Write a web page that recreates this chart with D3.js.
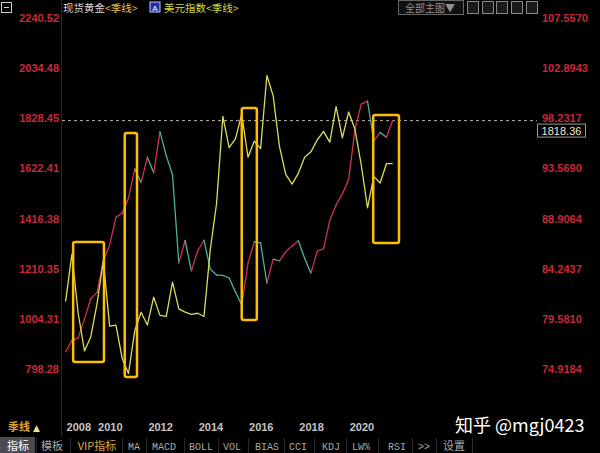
<!DOCTYPE html>
<html><head><meta charset="utf-8">
<script src="https://cdn.jsdelivr.net/npm/d3@7"></script>
<style>
html,body{margin:0;padding:0;background:#000;overflow:hidden;}
svg{display:block;}
</style></head><body>
<svg id="c" width="600" height="453"></svg>
<script>
// ---------- data ----------
const quarters = ["2008Q4",
 "2009Q1","2009Q2","2009Q3","2009Q4","2010Q1","2010Q2","2010Q3","2010Q4",
 "2011Q1","2011Q2","2011Q3","2011Q4","2012Q1","2012Q2","2012Q3","2012Q4",
 "2013Q1","2013Q2","2013Q3","2013Q4","2014Q1","2014Q2","2014Q3","2014Q4",
 "2015Q1","2015Q2","2015Q3","2015Q4","2016Q1","2016Q2","2016Q3","2016Q4",
 "2017Q1","2017Q2","2017Q3","2017Q4","2018Q1","2018Q2","2018Q3","2018Q4",
 "2019Q1","2019Q2","2019Q3","2019Q4","2020Q1","2020Q2","2020Q3","2020Q4",
 "2021Q1","2021Q2","2021Q3","2021Q4"];
const gold = [869,
 916, 926, 1003, 1087, 1113, 1244, 1307, 1421,
 1439, 1500, 1620, 1564, 1668, 1604, 1772, 1675,
 1595, 1234, 1326, 1201, 1284, 1327, 1209, 1184,
 1183, 1172, 1115, 1061, 1233, 1321, 1316, 1151,
 1249, 1242, 1280, 1303, 1325, 1253, 1192, 1282,
 1292, 1409, 1472, 1517, 1577, 1781, 1886, 1898,
 1735, 1770, 1750, 1818.36];
const dxy = [81.2,
 85.6, 80.1, 76.6, 77.9, 81.0, 85.0, 78.9, 79.0,
 75.9, 74.5, 78.5, 80.2, 79.0, 81.6, 79.9, 79.8,
 83.0, 80.5, 80.2, 80.0, 80.1, 79.8, 86.0, 90.3,
 98.4, 95.5, 96.3, 98.6, 94.6, 96.1, 95.4, 102.2,
 100.3, 95.6, 93.0, 92.1, 93.1, 94.6, 95.1, 96.2,
 97.0, 96.0, 99.3, 96.4, 98.8, 97.2, 93.9, 89.9,
 92.8, 92.2, 94.0, 94.0];
const goldTicks = [798.28, 1004.31, 1210.35, 1416.38, 1622.41, 1828.45, 2034.48, 2240.52];
const dxyTicks = [74.9184, 79.5810, 84.2437, 88.9064, 93.5690, 98.2317, 102.8943, 107.5570];
const yearTicks = ["2008","2010","2012","2014","2016","2018","2020"];
// highlight boxes: [start quarter index, end quarter index, gold high, gold low]
const boxStart = [1.2, 9.4, 28.0, 48.9];
const boxEnd   = [6.1, 11.35, 30.4, 53.0];
const boxHigh  = [1320, 1767, 1870, 1841];
const boxLow   = [827, 765, 1000, 1316];
const lastPrice = 1818.36;
const tabs = ["指标","模板","VIP指标","MA","MACD","BOLL","VOL","BIAS","CCI","KDJ","LW%","RSI",">>","设置"];

// ---------- layout ----------
const svg = d3.select("#c");
svg.append("rect").attr("width",600).attr("height",453).attr("fill","#000");

const x = d3.scaleLinear().domain([0, 52]).range([65.6, 392.7]);
const yG = d3.scaleLinear().domain([798.28, 2240.52]).range([369, 17.8]);
const yD = d3.scaleLinear().domain([74.9184, 107.557]).range([369, 17.8]);

const RED = "#d0324f", GREEN = "#4fae9c", YEL = "#dcdc5c", BOX = "#ffbe00";

// left frame line
svg.append("line").attr("x1",61.5).attr("x2",61.5).attr("y1",0).attr("y2",437)
  .attr("stroke","#3a2020").attr("stroke-width",1);

// left axis labels
const leftAxis = d3.axisLeft(yG).tickValues(goldTicks).tickSize(0).tickPadding(0)
  .tickFormat(d => d.toFixed(2));
const gl = svg.append("g").attr("transform","translate(59,0)").call(leftAxis);
gl.select(".domain").remove();
gl.selectAll("text").attr("fill","#c8283c").attr("font-family","Liberation Sans, Arial, sans-serif")
  .attr("font-size",11).attr("font-weight","bold");

// right axis labels
const rightAxis = d3.axisRight(yD).tickValues(dxyTicks).tickSize(0).tickPadding(0)
  .tickFormat(d => d.toFixed(4));
const gr = svg.append("g").attr("transform","translate(542,0)").call(rightAxis);
gr.select(".domain").remove();
gr.selectAll("text").attr("fill","#c8283c").attr("font-family","Liberation Sans, Arial, sans-serif")
  .attr("font-size",11).attr("font-weight","bold");

// dashed last-price line
svg.append("line").attr("x1",62).attr("x2",537)
  .attr("y1",yG(lastPrice)).attr("y2",yG(lastPrice))
  .attr("stroke","#b8b0a0").attr("stroke-width",1).attr("stroke-dasharray","3,3");

// price box
const py = yG(lastPrice);
svg.append("rect").attr("x",537.5).attr("y",py+3.5).attr("width",48).attr("height",13)
  .attr("fill","#000").attr("stroke","#9a9a8a").attr("stroke-width",1);
svg.append("text").attr("x",561.5).attr("y",py+14).attr("text-anchor","middle")
  .attr("fill","#f2ead0").attr("font-family","Liberation Sans, Arial, sans-serif")
  .attr("font-size",11).text(lastPrice.toFixed(2));

// gold line, coloured per segment (up red, down green)
const segs = d3.range(gold.length - 1);
svg.append("g").selectAll("line").data(segs).join("line")
  .attr("x1", i => x(i)).attr("y1", i => yG(gold[i]))
  .attr("x2", i => x(i+1)).attr("y2", i => yG(gold[i+1]))
  .attr("stroke", i => gold[i+1] >= gold[i] ? RED : GREEN)
  .attr("stroke-width",1.3).attr("stroke-linecap","round");

// dollar index line
svg.append("path").datum(dxy)
  .attr("d", d3.line().x((d,i) => x(i)).y(d => yD(d)))
  .attr("fill","none").attr("stroke",YEL).attr("stroke-width",1.3).attr("stroke-linejoin","round");

// highlight boxes
svg.append("g").selectAll("rect").data(boxStart).join("rect")
  .attr("x",(d,i) => x(boxStart[i]))
  .attr("y",(d,i) => yG(boxHigh[i]))
  .attr("width",(d,i) => x(boxEnd[i]) - x(boxStart[i]))
  .attr("height",(d,i) => yG(boxLow[i]) - yG(boxHigh[i]))
  .attr("rx",2).attr("fill","none").attr("stroke",BOX).attr("stroke-width",2.5);

// ---------- header ----------
svg.append("rect").attr("x",1.5).attr("y",2.5).attr("width",10).attr("height",10)
  .attr("fill","none").attr("stroke","#d0d0d0");
svg.append("line").attr("x1",4).attr("x2",9).attr("y1",7.5).attr("y2",7.5).attr("stroke","#d0d0d0");
const hdr = svg.append("text").attr("x",63).attr("y",12)
  .attr("font-family","Noto Sans CJK SC, sans-serif").attr("font-size",10.5);
hdr.append("tspan").attr("fill","#d8d8d8").text("现货黄金");
hdr.append("tspan").attr("fill","#e0c050").text("<季线>");
svg.append("rect").attr("x",150).attr("y",2).attr("width",10).attr("height",10)
  .attr("fill","#2030a0").attr("stroke","#c0c8ff");
svg.append("text").attr("x",155).attr("y",10.5).attr("text-anchor","middle")
  .attr("fill","#fff").attr("font-size",8).attr("font-family","Liberation Sans, sans-serif").text("A");
const hdr2 = svg.append("text").attr("x",164).attr("y",12)
  .attr("font-family","Noto Sans CJK SC, sans-serif").attr("font-size",10.5);
hdr2.append("tspan").attr("fill","#d8d840").text("美元指数");
hdr2.append("tspan").attr("fill","#d8d840").text("<季线>");

svg.append("rect").attr("x",398.5).attr("y",0.5).attr("width",65).attr("height",14)
  .attr("fill","#111").attr("stroke","#666");
svg.append("text").attr("x",430).attr("y",11.5).attr("text-anchor","middle")
  .attr("fill","#909090").attr("font-family","Noto Sans CJK SC, sans-serif").attr("font-size",10)
  .text("全部主图▼");
const iconX = [467, 482, 496, 511, 526];
svg.append("g").selectAll("rect").data(iconX).join("rect")
  .attr("x",d => d+0.5).attr("y",1.5).attr("width",11).attr("height",12)
  .attr("fill","#1a1a1a").attr("stroke","#888");

// ---------- bottom: period and years ----------
svg.append("text").attr("x",8).attr("y",431)
  .attr("font-family","Noto Sans CJK SC, sans-serif").attr("font-size",11).attr("font-weight","bold")
  .attr("fill","#e0a030").text("季线");
svg.append("text").attr("x",33).attr("y",431)
  .attr("font-family","DejaVu Sans, sans-serif").attr("font-size",9)
  .attr("fill","#f0e0a0").text("▲");

svg.append("g").selectAll("text").data(yearTicks).join("text")
  .attr("x", d => x(Math.max(0, quarters.findIndex(q => q.startsWith(d) && q.endsWith("Q1")))) + 1)
  .attr("y",431)
  .attr("font-family","Liberation Sans, Arial, sans-serif").attr("font-size",11).attr("font-weight","bold")
  .attr("fill","#c4c4c4").text(d => d);

// watermark
svg.append("text").attr("x",455).attr("y",432)
  .attr("font-family","Noto Sans CJK SC, sans-serif").attr("font-size",18)
  .attr("fill","#ffffff").text("知乎 @mgj0423");

// ---------- tab bar ----------
const tabX = [18, 52, 97, 134, 164, 201, 232, 267, 298, 331, 361, 397, 424, 454];
const sepX = [36, 70, 122, 146, 184, 218, 248, 284, 314, 346, 378, 412, 436, 472];
svg.append("rect").attr("x",0).attr("y",437).attr("width",35).attr("height",16).attr("fill","#4a4a52");
svg.append("g").selectAll("line").data(sepX).join("line")
  .attr("x1",d => d+0.5).attr("x2",d => d+0.5).attr("y1",438).attr("y2",453)
  .attr("stroke","#2a2a2a");
svg.append("g").selectAll("text").data(tabs).join("text")
  .attr("x",(d,i) => tabX[i]).attr("y",450).attr("text-anchor","middle")
  .attr("font-family", d => /[\u4e00-\u9fff]/.test(d) ? "Noto Sans CJK SC, sans-serif" : "Liberation Mono, monospace")
  .attr("font-size", d => /[\u4e00-\u9fff]/.test(d) ? 11 : 10)
  .attr("fill",(d,i) => i === 0 ? "#ffffff" : (d === "VIP指标" ? "#d8a848" : "#a8a8a8"))
  .text(d => d);
</script>
</body></html>
